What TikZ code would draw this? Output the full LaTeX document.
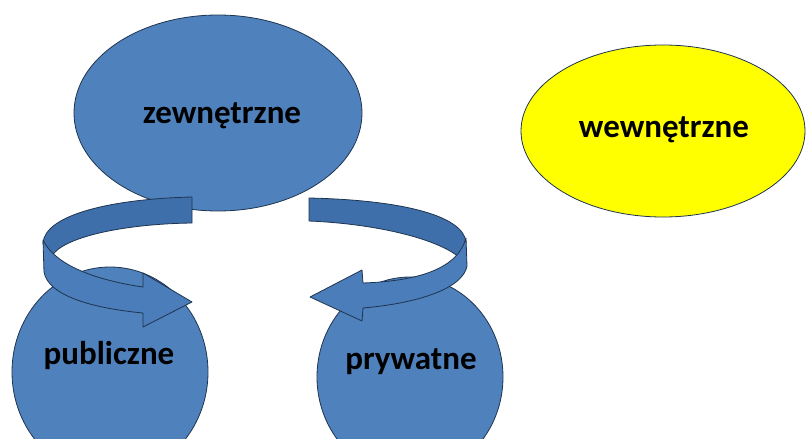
\documentclass[tikz,border=0pt]{standalone}
\usepackage{fontspec}
\setmainfont{Carlito}
\definecolor{fillblue}{HTML}{4F81BD}
\definecolor{backblue}{HTML}{3F6FAA}
\definecolor{frontblue}{HTML}{4A7DBA}
\definecolor{edge}{HTML}{1E3550}
\definecolor{yel}{HTML}{FFFF00}
\tikzset{
  blob/.style={ellipse, draw=edge, line width=0.8pt, fill=fillblue, inner sep=0pt},
  lbl/.style={font=\bfseries\fontsize{33}{38}\selectfont, text=black},
  band/.style={draw=edge, line width=0.8pt, line join=round},
}
\usetikzlibrary{shapes.geometric}
\begin{document}
\begin{tikzpicture}[x=1pt,y=-1pt]
\useasboundingbox (0,0) rectangle (806,439);
\fill[white] (0,0) rectangle (806,439);
% shapes
\node[blob, minimum width=288pt, minimum height=196pt] (ext) at (218,113) {};
\node[blob, fill=yel, minimum width=284pt, minimum height=172pt] (int) at (663,131) {};
\node[blob, minimum width=196pt, minimum height=210pt] (pub) at (110,372) {};
\node[blob, minimum width=186pt, minimum height=200pt] (pry) at (410,377) {};
% texts
\node[lbl] (extt) at (222,116) {zewnętrzne};
\node[lbl] (intt) at (664,130) {wewnętrzne};
\node[lbl] (pubt) at (109,356) {publiczne};
\node[lbl] (pryt) at (411,362) {prywatne};
% left circular arrow
\draw[band, fill=backblue] (192,197) -- (192,223)
  .. controls (120,224) and (62,238) .. (52,256) -- (43,243)
  .. controls (45,215) and (110,199) .. (192,197) -- cycle;
\draw[band, fill=frontblue] (43,240)
  .. controls (55,265) and (95,280) .. (143,287) -- (143,273) -- (192,302)
  -- (143,327) -- (143,313)
  .. controls (90,308) and (48,295) .. (44,272) -- cycle;
% right circular arrow
\draw[band, fill=backblue] (309,198)
  .. controls (400,200) and (463,215) .. (466,242) -- (460,258)
  .. controls (440,240) and (380,224) .. (309,221) -- cycle;
\draw[band, fill=frontblue] (466,238)
  .. controls (458,268) and (420,281) .. (363,283) -- (362,270) -- (310,297)
  -- (362,321) -- (363,308)
  .. controls (420,303) and (463,288) .. (467,266) -- cycle;
\end{tikzpicture}
\end{document}
